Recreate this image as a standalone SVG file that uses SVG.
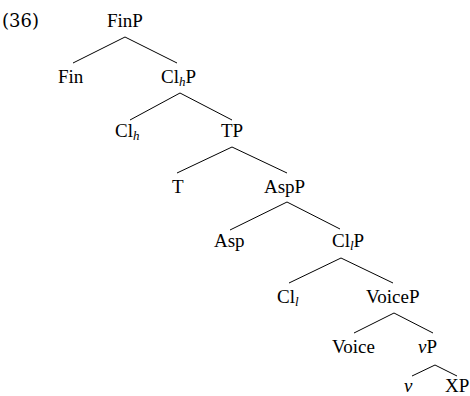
<svg xmlns="http://www.w3.org/2000/svg" width="470" height="396" viewBox="0 0 470 396">
<style>
text{font-family:"Liberation Serif","Times New Roman",serif;font-size:19px;fill:#000}
.ex{font-family:"DejaVu Serif","Liberation Serif",serif;font-size:18px}
.sub{font-size:13px;font-style:italic}
.it{font-style:italic}
.edges line{stroke:#000;stroke-width:1}
</style>
<rect width="470" height="396" fill="#fff"/>
<text class="ex" x="2" y="27">(36)</text>
<g class="edges" id="connectors">
<line x1="125" y1="37" x2="73" y2="63"/><line x1="125" y1="37" x2="177" y2="63"/>
<line x1="180" y1="93" x2="130" y2="120"/><line x1="180" y1="93" x2="232" y2="120"/>
<line x1="232" y1="147" x2="177" y2="173"/><line x1="232" y1="147" x2="287" y2="173"/>
<line x1="287" y1="202" x2="230" y2="230"/><line x1="287" y1="202" x2="340" y2="229"/>
<line x1="341" y1="258" x2="289" y2="283"/><line x1="341" y1="258" x2="393" y2="283"/>
<line x1="394" y1="313" x2="354" y2="333"/><line x1="394" y1="313" x2="433" y2="333"/>
<line x1="435" y1="365" x2="412" y2="376"/><line x1="435" y1="365" x2="457" y2="376"/>
</g>
<g id="FinP"><text x="107" y="27">FinP</text></g>
<g id="Fin"><text x="58" y="83">Fin</text></g>
<g id="ClhP"><text x="161" y="83">Cl<tspan class="sub" dy="3">h</tspan><tspan dy="-3">P</tspan></text></g>
<g id="Clh"><text x="115" y="137">Cl<tspan class="sub" dy="3">h</tspan></text></g>
<g id="TP"><text x="221" y="137">TP</text></g>
<g id="T"><text x="172" y="193">T</text></g>
<g id="AspP"><text x="264" y="193">AspP</text></g>
<g id="Asp"><text x="214" y="247">Asp</text></g>
<g id="CllP"><text x="332" y="247">Cl<tspan class="sub" dy="3">l</tspan><tspan dy="-3">P</tspan></text></g>
<g id="Cll"><text x="277" y="303">Cl<tspan class="sub" dy="3">l</tspan></text></g>
<g id="VoiceP"><text x="366" y="303">VoiceP</text></g>
<g id="Voice"><text x="332" y="353">Voice</text></g>
<g id="vP"><text x="418" y="353"><tspan class="it">v</tspan>P</text></g>
<g id="v"><text class="it" x="404" y="392">v</text></g>
<g id="XP"><text x="445" y="392">XP</text></g>
</svg>
